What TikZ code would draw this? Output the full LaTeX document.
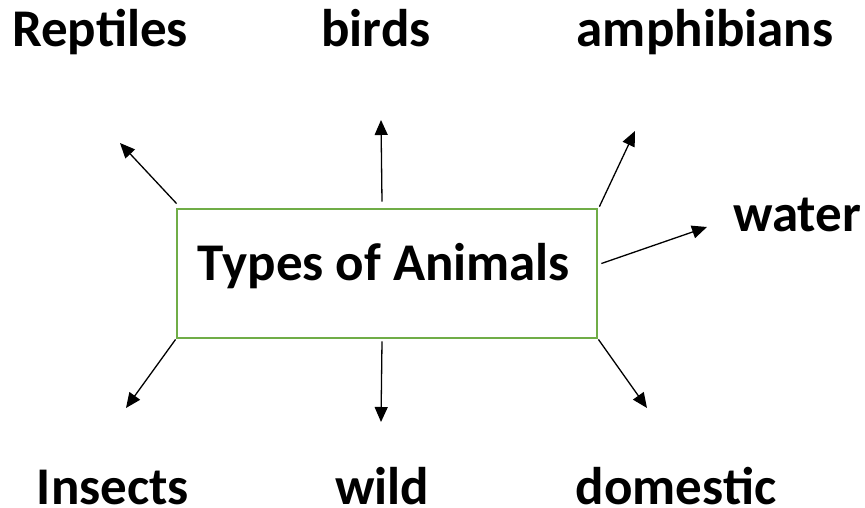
\documentclass[tikz,border=0pt]{standalone}
\usepackage{fontspec}
\setmainfont{Carlito}
\usetikzlibrary{arrows.meta}
\definecolor{boxgreen}{HTML}{70AD47}

\begin{document}
\begin{tikzpicture}[x=1pt,y=-1pt,
        word/.style={font=\bfseries\fontsize{53}{60}\selectfont, anchor=base, inner sep=0pt},
        arr/.style={line width=1.3pt, -{Triangle[length=15pt,width=13pt]}}]
        \useasboundingbox (0,0) rectangle (865,508);

        % Центральный блок
        \node[draw=boxgreen, line width=2.8pt, minimum width=420pt, minimum height=129pt] (box) at (387,273.5) {};
        \node[word] (title) at (384,280.5) {Types of Animals};

        % Подписи
        \node[word] (rep) at (100,47)  {Reptiles};
        \node[word] (bir) at (376,47)  {birds};
        \node[word] (amp) at (705,47)  {amphibians};
        \node[word] (wat) at (797,231) {water};
        \node[word] (ins) at (113,504) {Insects};
        \node[word] (wil) at (382,504) {wild};
        \node[word] (dom) at (676,504) {domestic};

        % Концы стрелок
        \coordinate (e1) at (120,143);
        \coordinate (e2) at (381,120);
        \coordinate (e3) at (635,131);
        \coordinate (e4) at (707,227);
        \coordinate (e5) at (126,408);
        \coordinate (e6) at (381,422);
        \coordinate (e7) at (647,408);

        % Стрелки
        \draw[arr] ([xshift=1pt,yshift=4pt]box.north west) -- (e1);
        \draw[arr] ([xshift=-5pt,yshift=6pt]box.north) -- (e2);
        \draw[arr] ([xshift=1pt,yshift=1pt]box.north east) -- (e3);
        \draw[arr] ([xshift=3pt,yshift=10pt]box.east) -- (e4);
        \draw[arr] (box.south west) -- (e5);
        \draw[arr] ([xshift=-5pt,yshift=-2pt]box.south) -- (e6);
        \draw[arr] (box.south east) -- (e7);
    \end{tikzpicture}
\end{document}
